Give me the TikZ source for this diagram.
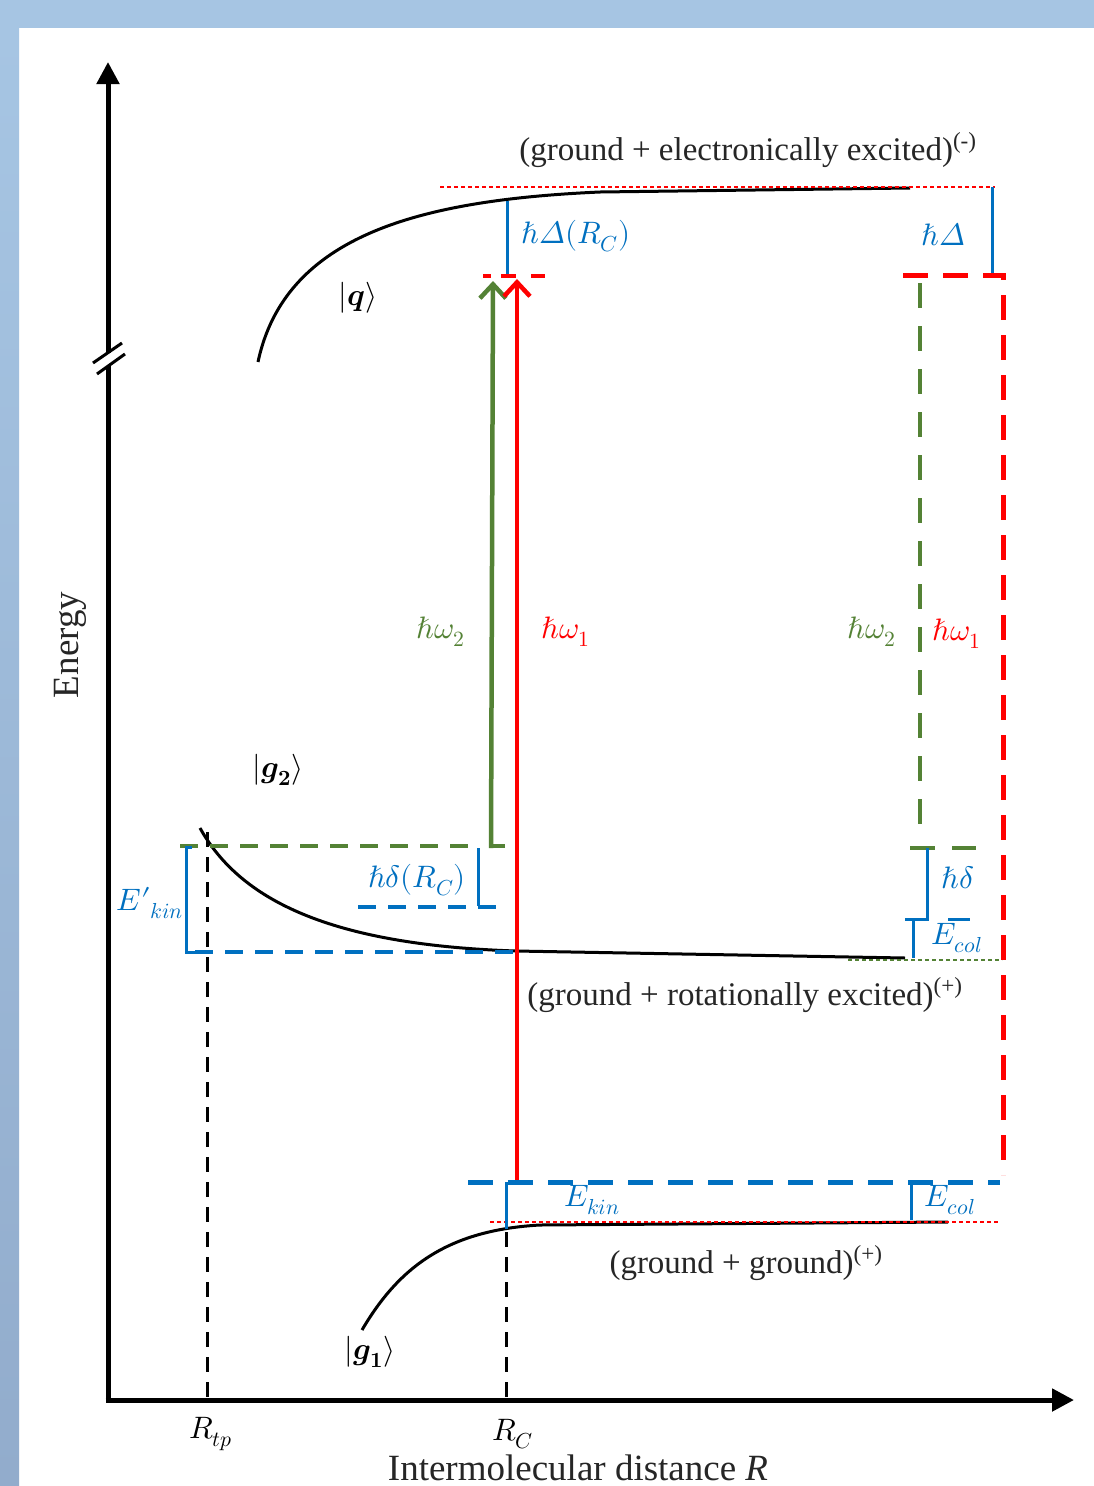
\documentclass[tikz,border=0pt]{standalone}
\usepackage{fontspec}
\usepackage[math-style=ISO]{unicode-math}
\setmainfont{Liberation Serif}
\setmathfont{Latin Modern Math}
\usetikzlibrary{arrows.meta}
\definecolor{myblue}{RGB}{0,112,192}
\definecolor{mygreen}{RGB}{84,130,53}
\definecolor{myred}{RGB}{255,0,0}
\definecolor{bandtop}{RGB}{166,197,227}
\definecolor{bandbot}{RGB}{146,172,204}
\begin{document}
\begin{tikzpicture}[x=1pt,y=-1pt,
  curve/.style={line width=3pt,black},
  axis/.style={line width=5pt,black},
  axistip/.style={-{Triangle[length=22pt,width=22pt]}},
  txt/.style={font=\fontsize{33}{38}\selectfont,text=black!85,inner sep=0pt},
  bigtxt/.style={font=\fontsize{37}{42}\selectfont,text=black!85,inner sep=0pt},
  lab/.style={font=\fontsize{31}{36}\selectfont,inner sep=0pt},
  bluelab/.style={lab,text=myblue},
  greenlab/.style={lab,text=mygreen},
  redlab/.style={lab,text=myred},
  bluesolid/.style={myblue,line width=3pt},
  thindot/.style={line width=1.5pt,dash pattern=on 4pt off 3pt},
  bigdash/.style={line width=5pt,dash pattern=on 25pt off 15pt},
  middash/.style={line width=3.5pt,dash pattern=on 18pt off 12pt},
  blackdash/.style={line width=3pt,dash pattern=on 15pt off 10pt},
  photon/.style={line width=4.5pt,-{Straight Barb[length=14pt,width=26pt]}}
]
\useasboundingbox (0,0) rectangle (1094,1486);
\fill[white] (0,0) rectangle (1094,1486);
\fill[bandtop] (0,0) rectangle (1094,28);
\shade[top color=bandtop,bottom color=bandbot] (0,28) rectangle (19,1486);

% axes
\coordinate (yb) at (108,1402);
\coordinate (ybrkA) at (108,366);
\coordinate (ybrkB) at (108,353);
\coordinate (ytop) at (108,62);
\coordinate (xl) at (105.5,1400);
\coordinate (xr) at (1074,1400);
\draw[axis] (yb) -- (ybrkA);
\draw[axis,axistip] (ybrkB) -- (ytop);
\draw[line width=3pt] (93,363) -- (122,343);
\draw[line width=3pt] (97,374) -- (125,354);
\draw[axis,axistip] (xl) -- (xr);

% potential curves
\draw[curve] (258,362) .. controls (285,235) and (420,200) .. (600,192) -- (910,188);
\draw[curve] (200,828) .. controls (240,900) and (330,945) .. (516,951) -- (905,958);
\draw[curve] (362,1330) .. controls (400,1265) and (450,1230) .. (540,1225) -- (948,1222);

% thin dotted reference lines
\draw[myred,thindot] (440,187) -- (995,187);
\draw[myred,thindot] (490,1222) -- (1000,1222);
\draw[mygreen,thindot] (848,960) -- (1002,960);

% top brackets
\draw[bluesolid] (507,201) -- (507,275);
\draw[bluesolid] (992,187) -- (992,275);
\draw[myred,line width=3.5pt,dash pattern=on 8pt off 10pt on 15pt off 15pt on 15pt off 0pt] (483,276) -- (545,276);

% right dashed levels
\draw[myred,bigdash] (903,275) -- (1003,275) -- (1003,1175);
\draw[mygreen,line width=4pt,dash pattern=on 25pt off 18pt] (920,283) -- (920,838);
\draw[mygreen,line width=4pt] (910,848) -- (935,848);
\draw[mygreen,line width=4pt] (952,848) -- (976,848);
\draw[bluesolid] (927,848) -- (927,919) -- (905,919);
\draw[bluesolid] (948,919) -- (970,919);
\draw[bluesolid] (913,919) -- (913,958);

% left region at g2
\draw[mygreen,middash] (180,846) -- (478,846);
\draw[mygreen,line width=4pt] (505,846) -- (491,846);
\draw[bluesolid] (192,847) -- (186,847) -- (186,952) -- (195,952);
\draw[myblue,middash] (195,952) -- (516,952);
\draw[bluesolid] (478,848) -- (478,906);
\draw[myblue,middash] (358,907) -- (505,907);
\draw[black,blackdash] (207,832) -- (207,1398);

% photons
\coordinate (gbot) at (491,848);
\coordinate (gtop) at (493,281);
\coordinate (rbot) at (517,1184);
\coordinate (rtop) at (517,279);
\draw[mygreen,photon] (gbot) -- (gtop);
\draw[myred,photon] (rbot) -- (rtop);

% bottom levels
\draw[myblue,bigdash] (468,1182) -- (1000,1182);
\draw[bluesolid] (506,1182) -- (506,1229);
\draw[bluesolid] (911,1182) -- (911,1220);
\draw[black,blackdash] (506,1232) -- (506,1398);

% texts
\node[txt] (t1) at (748,150) {(ground + electronically excited)\textsuperscript{(-)}};
\node[txt] (t2) at (745,995) {(ground + rotationally excited)\textsuperscript{(+)}};
\node[txt] (t3) at (746,1263) {(ground + ground)\textsuperscript{(+)}};
\node[bigtxt,rotate=90] (en) at (70,645) {Energy};
\node[bigtxt,anchor=base] (xlab) at (578,1480) {Intermolecular distance \textit{R}};

\node[lab] (q) at (358,298) {$|\symbfit{q}\rangle$};
\node[lab] (g2) at (278,770) {$|\symbfit{g}_{\symbf{2}}\rangle$};
\node[lab] (g1) at (370,1352) {$|\symbfit{g}_{\symbf{1}}\rangle$};
\node[lab] (rtp) at (211,1434) {$R_{tp}$};
\node[lab] (rc) at (513,1434) {$R_C$};

\node[bluelab] (dRc) at (576,236) {$\hbar\Delta(R_C)$};
\node[bluelab] (dinf) at (943,235) {$\hbar\Delta$};
\node[greenlab] (w2a) at (441,632) {$\hbar\omega_2$};
\node[redlab] (w1a) at (566,632) {$\hbar\omega_1$};
\node[greenlab] (w2b) at (872,632) {$\hbar\omega_2$};
\node[redlab] (w1b) at (957,634) {$\hbar\omega_1$};
\node[bluelab] (sRc) at (417,880) {$\hbar\delta(R_C)$};
\node[bluelab] (ekp) at (150,903) {$E\mathord{\prime}{}_{kin}$};
\node[bluelab] (sinf) at (958,878) {$\hbar\delta$};
\node[bluelab] (ecol1) at (957,938) {$E_{col}$};
\node[bluelab] (ekin) at (592,1200) {$E_{kin}$};
\node[bluelab] (ecol2) at (950,1200) {$E_{col}$};
\end{tikzpicture}
\end{document}
